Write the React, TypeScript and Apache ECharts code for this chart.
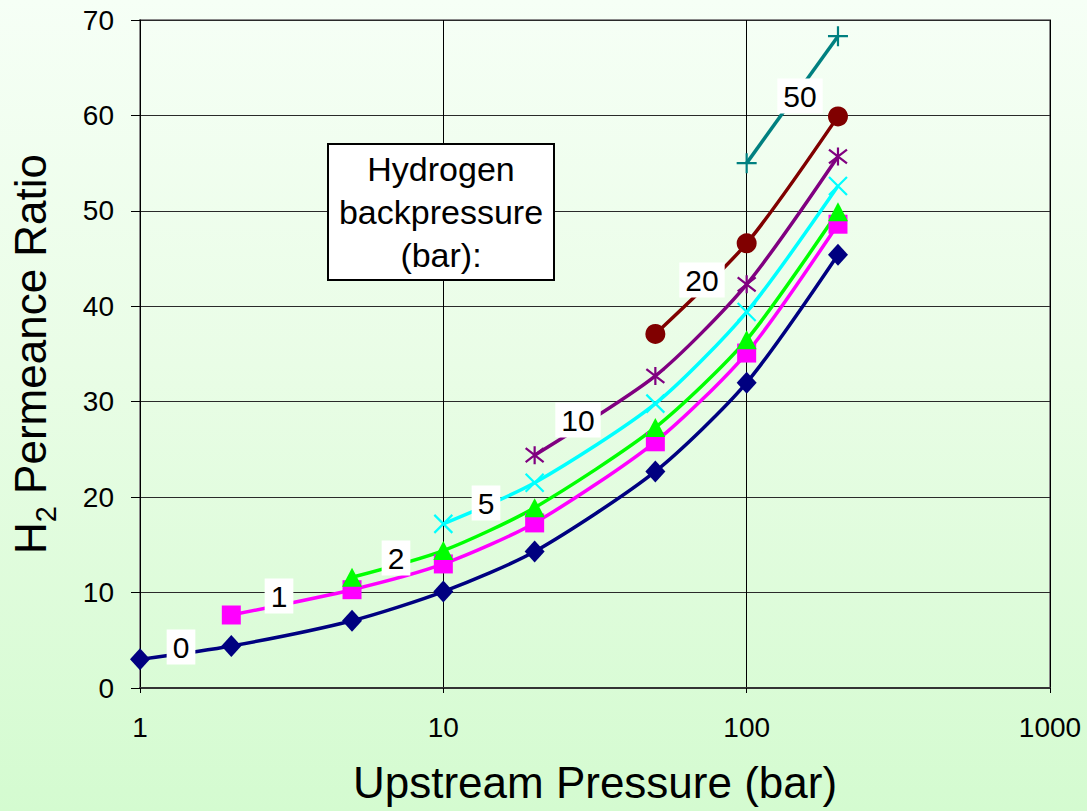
import React, { useEffect, useRef } from "react";
import * as echarts from "echarts";

const pressures = [1, 2, 5, 10, 20, 50, 100, 200];
const bp0 = [3.0, 4.4, 7.05, 10.1, 14.3, 22.7, 32.0, 45.4];
const bp1 = [null, 7.65, 10.3, 13.0, 17.3, 25.8, 35.1, 48.6];
const bp2 = [null, null, 11.6, 14.4, 18.9, 27.3, 36.5, 49.9];
const bp5 = [null, null, null, 17.2, 21.5, 29.8, 39.4, 52.6];
const bp10 = [null, null, null, null, 24.4, 32.7, 42.3, 55.7];
const bp20 = [null, null, null, null, null, 37.1, 46.6, 59.9];
const bp50 = [null, null, null, null, null, null, 55.0, 68.3];
const xTicks = [1, 10, 100, 1000];

const FONT = "'Liberation Sans', Arial, sans-serif";

const pairs = (vals: (number | null)[]) =>
  pressures
    .map((p, i) => [p, vals[i]])
    .filter((d) => d[1] !== null) as number[][];

const CROSS = "path://M0,0L10,10M10,0L0,10";
const STAR = "path://M0,0L10,10M10,0L0,10M5,-1.5L5,11.5";
const PLUS = "path://M0,5L10,5M5,0L5,10";

export default function App() {
  const ref = useRef<HTMLDivElement>(null);
  useEffect(() => {
    document.body.style.margin = "0";
    const chart = echarts.init(ref.current!, null, { renderer: "svg" });
    const mk = (
      name: string,
      vals: (number | null)[],
      color: string,
      symbol: string,
      size: number | number[],
      stroke = false
    ) => ({
      name,
      type: "line",
      data: pairs(vals),
      smooth: 0.25,
      symbol,
      symbolSize: size,
      showSymbol: true,
      lineStyle: { color, width: 3.5 },
      itemStyle: stroke
        ? { color: "rgba(0,0,0,0)", borderColor: color, borderWidth: 2.2 }
        : { color, borderWidth: 0 },
      z: 3,
    });
    const labelBox = (t: string, x: number, y: number) => ({
      type: "text",
      x,
      y,
      z: 100,
      style: {
        text: t,
        fontSize: 30,
        fontFamily: FONT,
        fill: "#000",
        backgroundColor: "#fff",
        padding: [3, 6, 2, 6],
        align: "center",
        verticalAlign: "middle",
      },
    });
    chart.setOption({
      animation: false,
      backgroundColor: "transparent",
      grid: {
        left: 136,
        top: 20,
        right: 37,
        bottom: 123,
        show: true,
        borderColor: "#8a8a8a",
        borderWidth: 2,
        backgroundColor: "transparent",
      },
      xAxis: {
        type: "log",
        logBase: 10,
        min: 1,
        max: 1000,
        name: "Upstream Pressure (bar)",
        nameLocation: "middle",
        nameGap: 72,
        nameTextStyle: { fontSize: 44, fontFamily: FONT, color: "#000" },
        axisLine: { show: true, onZero: false, lineStyle: { color: "#333", width: 2 } },
        axisTick: { show: true, length: 5, lineStyle: { color: "#000" } },
        axisLabel: {
          fontSize: 28,
          fontFamily: FONT,
          color: "#000",
          margin: 25,
          formatter: (v: number) => (xTicks.includes(Math.round(v)) ? String(Math.round(v)) : ""),
        },
        splitLine: { show: true, lineStyle: { color: "#000", width: 1 } },
        minorTick: { show: false },
      },
      yAxis: {
        type: "value",
        min: 0,
        max: 70,
        interval: 10,
        name: "{a|H}{b|2}{a| Permeance Ratio}",
        nameLocation: "middle",
        nameGap: 80,
        nameTextStyle: {
          fontSize: 44,
          fontFamily: FONT,
          color: "#000",
          rich: {
            a: { fontSize: 44, fontFamily: FONT, color: "#000", verticalAlign: "bottom", padding: [0, 0, 8, 0] },
            b: { fontSize: 29, fontFamily: FONT, color: "#000", verticalAlign: "bottom" },
          },
        },
        axisLine: { show: true, lineStyle: { color: "#000", width: 1 } },
        axisTick: { show: true, inside: false, length: 9, lineStyle: { color: "#000" } },
        axisLabel: { fontSize: 28, fontFamily: FONT, color: "#000", margin: 26 },
        splitLine: { show: true, lineStyle: { color: "#2a2a2a", width: 1 } },
      },
      series: [
        mk("0", bp0, "#000080", "diamond", [20, 22]),
        mk("1", bp1, "#ff00ff", "rect", 19),
        mk("2", bp2, "#00ff00", "triangle", [20, 19]),
        mk("5", bp5, "#00ffff", CROSS, 18, true),
        mk("10", bp10, "#800080", STAR, 18, true),
        mk("20", bp20, "#800000", "circle", 20),
        mk("50", bp50, "#008080", PLUS, 20, true),
      ],
      graphic: [
        {
          type: "rect",
          z: 100,
          shape: { x: 328, y: 144, width: 226, height: 136 },
          style: { fill: "#fff", stroke: "#000", lineWidth: 2 },
        },
        {
          type: "text",
          x: 441,
          y: 212,
          z: 101,
          style: {
            text: "Hydrogen\nbackpressure\n(bar):",
            fontSize: 34,
            lineHeight: 43,
            fontFamily: FONT,
            fill: "#000",
            align: "center",
            verticalAlign: "middle",
          },
        },
        labelBox("0", 181, 647),
        labelBox("1", 279, 596),
        labelBox("2", 396, 558),
        labelBox("5", 486, 503),
        labelBox("10", 578, 420),
        labelBox("20", 702, 280),
        labelBox("50", 800, 96),
      ],
    });
    return () => chart.dispose();
  }, []);
  return (
    <div
      style={{
        width: 1087,
        height: 811,
        background: "linear-gradient(180deg, #f6fff6 0%, #e9fde6 45%, #d4fbd0 100%)",
      }}
    >
      <div ref={ref} style={{ width: 1087, height: 811 }} />
    </div>
  );
}
